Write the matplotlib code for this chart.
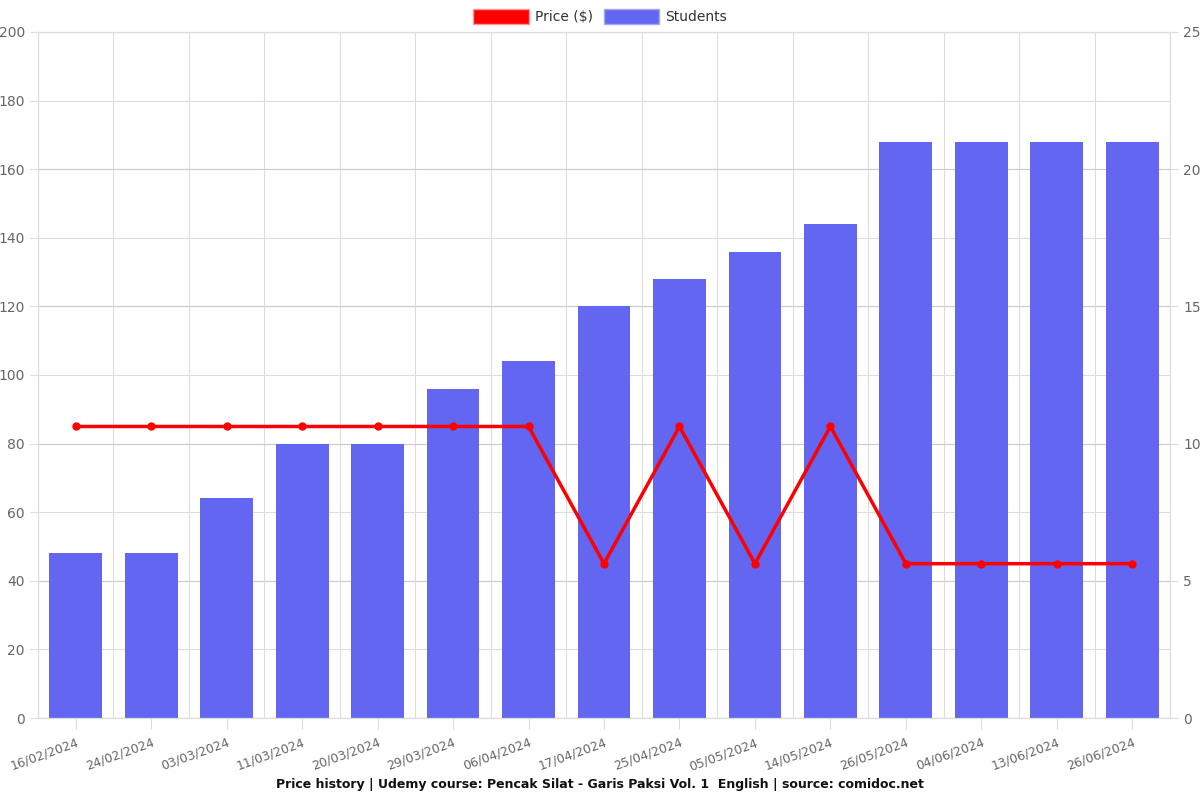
import numpy as np
import matplotlib.pyplot as plt
from matplotlib.patches import Patch

dates = ['16/02/2024', '24/02/2024', '03/03/2024', '11/03/2024', '20/03/2024',
         '29/03/2024', '06/04/2024', '17/04/2024', '25/04/2024', '05/05/2024',
         '14/05/2024', '26/05/2024', '04/06/2024', '13/06/2024', '26/06/2024']
price = [84.99, 84.99, 84.99, 84.99, 84.99, 84.99, 84.99, 44.99, 84.99, 44.99,
         84.99, 44.99, 44.99, 44.99, 44.99]
students = [6, 6, 8, 10, 10, 12, 13, 15, 16, 17, 18, 21, 21, 21, 21]

grid_c = '#dddddd'
tick_c = '#666666'

fig = plt.figure(figsize=(12, 8), dpi=100)
ax = fig.add_axes([38/1200, 82/800, 1132/1200, 686/800])
ax2 = ax.twinx()

x = np.arange(len(dates))
ax2.bar(x, students, width=0.7, color='#6366f1', zorder=2)
ax2.set_ylim(0, 25)
ax2.set_yticks(np.arange(0, 26, 5))

ax.plot(x, price, color='#ff0000', linewidth=2.5, marker='o', markersize=5, zorder=5)
ax.set_ylim(0, 200)
ax.set_yticks(np.arange(0, 201, 20))
ax.set_xlim(-0.5, len(dates) - 0.5)

ax.set_zorder(ax2.get_zorder() + 1)
ax.patch.set_visible(False)

# grids: vertical at category boundaries
for b in np.arange(-0.5, len(dates), 1):
    ax2.axvline(b, color=grid_c, linewidth=0.8, zorder=0)
for v in np.arange(0, 201, 20):
    ax2.axhline(v / 8, color=grid_c, linewidth=0.8, zorder=0)
for v in np.arange(0, 26, 5):
    ax2.axhline(v, color='#cccccc', linewidth=0.8, zorder=0)

ax.set_xticks(x)
ax.set_xticklabels(dates, rotation=20, ha='right', rotation_mode='anchor', fontsize=9)
for a in (ax, ax2):
    for s in a.spines.values():
        s.set_color(grid_c)
    a.tick_params(colors=tick_c, labelsize=10, length=6, width=0.8)
    a.tick_params(axis='both', color=grid_c)
ax.tick_params(axis='x', length=8, pad=5, labelsize=9)

handles = [Patch(facecolor='#ff0000', edgecolor='#ff9999'),
           Patch(facecolor='#6366f1', edgecolor='#a5a6f6')]
fig.legend(handles, ['Price ($)', 'Students'], loc='upper center',
           bbox_to_anchor=(0.5, 1.005), ncol=2, frameon=False, fontsize=10,
           handlelength=4, handleheight=1.3, columnspacing=0.8, handletextpad=0.4,
           labelcolor='#333333')

fig.text(0.5, 0.015, 'Price history | Udemy course: Pencak Silat - Garis Paksi Vol. 1  English | source: comidoc.net',
         ha='center', fontsize=9, fontweight='bold', color='#111111')

fig.savefig('out.png', dpi=100)
